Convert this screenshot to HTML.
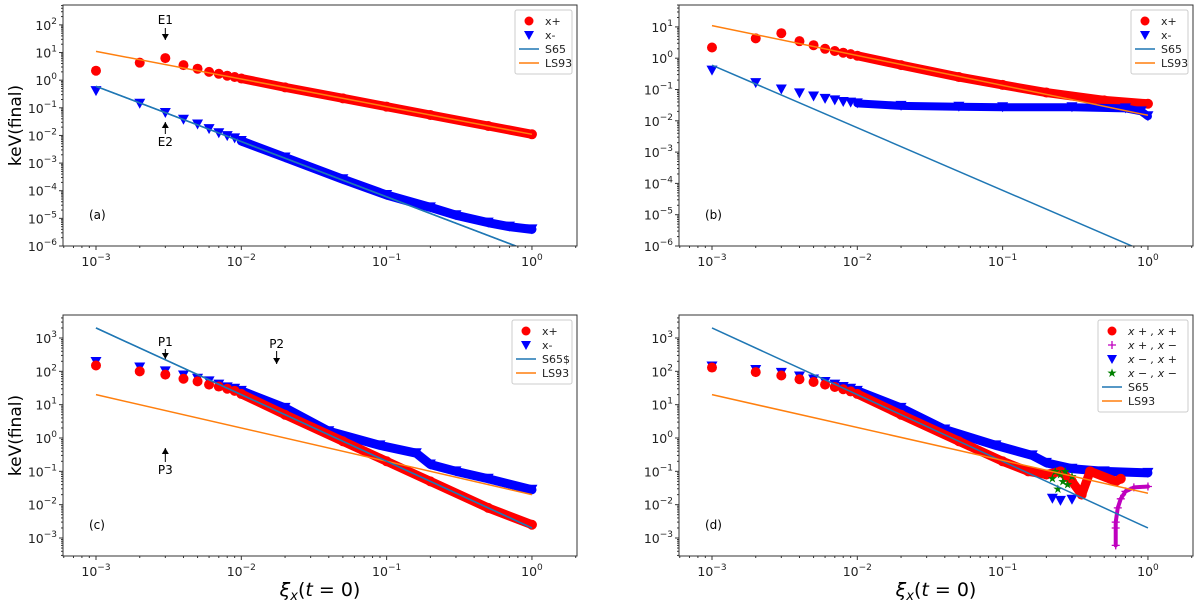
<!DOCTYPE html>
<html><head><meta charset="utf-8"><style>
body{margin:0;background:#fff;width:1200px;height:605px;overflow:hidden}
svg{font-family:"DejaVu Sans","Liberation Sans",sans-serif}
</style></head><body>
<svg id="fig" width="1200" height="605" xmlns="http://www.w3.org/2000/svg"></svg>
<script>
// ---------- data ----------
const aXp=[0.001,0.002,0.003,0.004,0.005,0.006,0.007,0.008,0.009,0.01,0.02,0.05,0.1,0.2,0.5,1];
const aYp=[2.2,4.3,6.3,3.5,2.6,2.0,1.7,1.45,1.3,1.15,0.55,0.22,0.11,0.055,0.022,0.011];
const aXm=[0.001,0.002,0.003,0.004,0.005,0.006,0.007,0.008,0.009,0.01,0.02,0.05,0.1,0.2,0.3,0.5,0.7,1];
const aYm=[0.4,0.14,0.065,0.037,0.025,0.017,0.012,0.0095,0.0078,0.0063,0.0016,2.6e-4,7e-5,2.5e-5,1.3e-5,7e-6,5e-6,4e-6];
const bXp=[0.001,0.002,0.003,0.004,0.005,0.006,0.007,0.008,0.009,0.01,0.02,0.05,0.1,0.2,0.5,1];
const bYp=[2.2,4.3,6.3,3.5,2.6,2.0,1.7,1.5,1.35,1.2,0.6,0.25,0.14,0.08,0.045,0.035];
const bXm=[0.001,0.002,0.003,0.004,0.005,0.006,0.007,0.008,0.009,0.01,0.02,0.05,0.1,0.3,0.7,0.9,1];
const bYm=[0.4,0.16,0.1,0.075,0.06,0.05,0.045,0.04,0.038,0.036,0.03,0.028,0.027,0.027,0.025,0.02,0.014];
const cXp=[0.001,0.002,0.003,0.004,0.005,0.006,0.007,0.008,0.009,0.01,0.02,0.05,0.1,0.2,0.5,1];
const cYp=[150,100,80,60,50,40,35,30,26,21,5,0.8,0.2,0.05,0.008,0.0025];
const cXm=[0.001,0.002,0.003,0.004,0.005,0.006,0.007,0.008,0.009,0.01,0.02,0.04,0.09,0.16,0.2,0.3,0.5,1];
const cYm=[190,130,100,75,60,50,40,33,30,26,8,1.6,0.6,0.35,0.16,0.1,0.06,0.028];
const dXpp=[0.001,0.002,0.003,0.004,0.005,0.006,0.007,0.008,0.009,0.01,0.02,0.05,0.1,0.15,0.2,0.25,0.3,0.35,0.4,0.6,0.65];
const dYpp=[130,95,75,58,48,40,34,29,25,21,5,0.8,0.2,0.1,0.08,0.1,0.05,0.02,0.1,0.05,0.06];
const dXmp=[0.001,0.002,0.003,0.004,0.005,0.006,0.007,0.008,0.009,0.01,0.02,0.04,0.09,0.16,0.2,0.3,0.5,1];
const dYmp=[140,110,90,70,57,48,40,34,30,26,8,1.8,0.6,0.3,0.18,0.12,0.1,0.09];
const dXmpStray=[0.22,0.25,0.3];
const dYmpStray=[0.015,0.013,0.014];
const dXpm=[0.6,0.6,0.6,0.62,0.65,0.7,0.8,1];
const dYpm=[0.0006,0.002,0.003,0.008,0.015,0.025,0.033,0.035];
const dXmm=[0.22,0.23,0.24,0.25,0.26,0.27,0.28,0.3];
const dYmm=[0.06,0.1,0.03,0.08,0.05,0.1,0.04,0.07];
const lineX=[0.001,1];
const aS65=[0.6,6e-7], aLS=[11,0.011];
const bS65=[0.6,6e-7], bLS=[11,0.015];
const cS65=[2000,0.002], cLS=[20,0.02];
const dS65=[2000,0.002], dLS=[20,0.022];
const yTicksA=[-6,-5,-4,-3,-2,-1,0,1,2];
const yTicksB=[-6,-5,-4,-3,-2,-1,0,1];
const yTicksC=[-3,-2,-1,0,1,2,3];
const xTicks=[-3,-2,-1,0];

// ---------- drawing ----------
const svg=document.getElementById('fig');
const NS='http://www.w3.org/2000/svg';
function mk(tag,attrs,parent){const e=document.createElementNS(NS,tag);for(const k in attrs)e.setAttribute(k,attrs[k]);(parent||svg).appendChild(e);return e;}
const RED='#ff0000',BLUE='#0000ff',S65C='#1f77b4',LSC='#ff7f0e',MAG='#bf00bf',GRN='#008000';

function panel(cfg){
  const g=mk('g',{});
  
  
  const L=cfg.L,R=cfg.L+514,T=cfg.T,B=cfg.T+241;
  const xl=-3.227,xr=0.31;
  const sx=v=>L+(Math.log10(v)-xl)/(xr-xl)*(R-L);
  const sy=v=>B-(Math.log10(v)-cfg.y0)/(cfg.y1-cfg.y0)*(B-T);
  const cp='cp'+cfg.id;
  const defs=mk('defs',{},g);const c=mk('clipPath',{id:cp},defs);mk('rect',{x:L,y:T,width:R-L,height:B-T},c);
  const plot=mk('g',{'clip-path':'url(#'+cp+')'},g);
  
  
  function band(xs,ys,col,w,nm){
    let d='';xs.forEach((x,i)=>{if(x>=0.01)d+=(d?'L':'M')+sx(x)+' '+sy(ys[i]);});
    const p=mk('path',{d:d,stroke:col,'stroke-width':w,fill:'none','stroke-linejoin':'round','stroke-linecap':'round'},plot);
    
    
  }
  function marks(xs,ys,col,type,nm){
    xs.forEach((x,i)=>{
      const X=sx(x),Y=sy(ys[i]);let e;
      if(type==='o')e=mk('circle',{cx:X,cy:Y,r:5,fill:col},plot);
      else if(type==='v')e=mk('path',{d:`M${X-5.5} ${Y-5}L${X+5.5} ${Y-5}L${X} ${Y+5}Z`,fill:col},plot);
      else if(type==='+')e=mk('path',{d:`M${X-4} ${Y}H${X+4}M${X} ${Y-4}V${Y+4}`,stroke:col,'stroke-width':1.3},plot);
      else e=mk('text',{x:X,y:Y+4,'text-anchor':'middle','font-size':12,fill:col},plot),e.textContent='★';
      
      
    });
  }
  function fit(ys,col,nm){
    const e=mk('line',{x1:sx(lineX[0]),y1:sy(ys[0]),x2:sx(lineX[1]),y2:sy(ys[1]),stroke:col,'stroke-width':1.5},plot);
    
    
  }
  cfg.series.forEach(s=>{if(s.band)band(s.x,s.y,s.c,s.bw||10,s.n);marks(s.x,s.y,s.c,s.t,s.n);});
  fit(cfg.s65,S65C,'s65-line');fit(cfg.ls,LSC,'ls93-line');
  if(cfg.cover)fit(cfg.s65,S65C,'s65-line-top');
  const fr=mk('rect',{x:L,y:T,width:R-L,height:B-T,fill:'none',stroke:'#333','stroke-width':1},g);
  
  
  for(let dec=-4;dec<=0;dec++){for(let m=1;m<10;m++){const v=m*Math.pow(10,dec);const X=sx(v);if(X<L||X>R)continue;
    mk('line',{x1:X,y1:B,x2:X,y2:B+(m===1?4:2),stroke:'#333'},g);}}
  xTicks.forEach(t=>{const e=mk('text',{x:sx(Math.pow(10,t)),y:B+20,'text-anchor':'middle','font-size':12.5,fill:'#222'},g);
    
    e.innerHTML='10<tspan dy="-6" font-size="9">'+(t<0?'−'+(-t):t)+'</tspan>';});
  cfg.yt.forEach(t=>{const Y=sy(Math.pow(10,t));mk('line',{x1:L-4,y1:Y,x2:L,y2:Y,stroke:'#333'},g);
    const e=mk('text',{x:L-6,y:Y+5,'text-anchor':'end','font-size':12.5,fill:'#222'},g);
    
    e.innerHTML='10<tspan dy="-6" font-size="9">'+(t<0?'−'+(-t):t)+'</tspan>';});
  for(let t=Math.floor(cfg.y0);t<cfg.y1;t++)for(let m=2;m<10;m++){const Y=sy(m*Math.pow(10,t));if(Y<T||Y>B)continue;mk('line',{x1:L-2,y1:Y,x2:L,y2:Y,stroke:'#333'},g);}
  if(cfg.ylabel){const e=mk('text',{x:0,y:0,transform:`translate(${L-42},${(T+B)/2}) rotate(-90)`,'text-anchor':'middle','font-size':17,fill:'#000'},g);
    e.textContent='keV(final)';}
  if(cfg.xlabel){const e=mk('text',{x:(L+R)/2,y:B+40,'text-anchor':'middle','font-size':19,fill:'#000'},g);
    
    e.innerHTML='<tspan font-style="italic">ξ</tspan><tspan font-size="13" dy="4" font-style="italic">x</tspan><tspan dy="-4">(</tspan><tspan font-style="italic">t</tspan> = 0)';}
  const pl=mk('text',{x:L+26,y:B-27,'font-size':12,fill:'#000'},g);
  pl.textContent=cfg.label;
  const ent=cfg.legend;const lw=cfg.legW,lx=R-5-lw,ly=T+5,lh=ent.length*14+8;
  const lg=mk('g',{},g);
  mk('rect',{x:lx,y:ly,width:lw,height:lh,fill:'#fff',stroke:'#ccc',rx:2},lg);
  ent.forEach((en,i)=>{const Y=ly+11+i*14,X=lx+14;
    const eg=mk('g',{},lg);
    if(en.t==='o')mk('circle',{cx:X,cy:Y,r:4.5,fill:en.c},eg);
    else if(en.t==='v')mk('path',{d:`M${X-5} ${Y-4}L${X+5} ${Y-4}L${X} ${Y+5}Z`,fill:en.c},eg);
    else if(en.t==='+')mk('path',{d:`M${X-4} ${Y}H${X+4}M${X} ${Y-4}V${Y+4}`,stroke:en.c,'stroke-width':1.3},eg);
    else if(en.t==='*'){const s=mk('text',{x:X,y:Y+4,'text-anchor':'middle','font-size':12,fill:en.c},eg);s.textContent='★';}
    else mk('line',{x1:X-10,y1:Y,x2:X+10,y2:Y,stroke:en.c,'stroke-width':1.5},eg);
    const tx=mk('text',{x:lx+30,y:Y+4,'font-size':11,fill:'#222','font-style':en.it?'italic':'normal'},eg);tx.textContent=en.l;});
  (cfg.ann||[]).forEach(a=>{const X=sx(a.x);
    const ag=mk('g',{},g);
    const tx=mk('text',{x:X,y:a.ty,'text-anchor':'middle','font-size':12,fill:'#000'},ag);tx.textContent=a.l;
    mk('line',{x1:X,y1:a.a0,x2:X,y2:a.a1,stroke:'#000','stroke-width':1},ag);
    const d=a.a1>a.a0?1:-1;mk('path',{d:`M${X-3.5} ${a.a1-6*d}L${X+3.5} ${a.a1-6*d}L${X} ${a.a1}Z`,fill:'#000'},ag);});
}
const legStd=(s)=>[{t:'o',c:RED,l:'x+'},{t:'v',c:BLUE,l:'x-'},{t:'l',c:S65C,l:s},{t:'l',c:LSC,l:'LS93'}];
panel({id:'a',name:'panel-a',L:63,T:5,y0:-6,y1:2.72,yt:yTicksA,ylabel:true,label:'(a)',legW:57,
  series:[{x:aXp,y:aYp,c:RED,t:'o',n:'x-plus',band:1,bw:9},{x:aXm,y:aYm,c:BLUE,t:'v',n:'x-minus',band:1,bw:9}],
  s65:aS65,ls:aLS,cover:true,legend:legStd('S65'),
  ann:[{x:0.003,l:'E1',ty:24,a0:28,a1:40},{x:0.003,l:'E2',ty:146,a0:134,a1:122}]});
panel({id:'b',name:'panel-b',L:679,T:5,y0:-6,y1:1.7,yt:yTicksB,label:'(b)',legW:57,
  series:[{x:bXp,y:bYp,c:RED,t:'o',n:'x-plus',band:1,bw:9},{x:bXm,y:bYm,c:BLUE,t:'v',n:'x-minus',band:1,bw:8}],
  s65:bS65,ls:bLS,legend:legStd('S65')});
panel({id:'c',name:'panel-c',L:63,T:315,y0:-3.54,y1:3.69,yt:yTicksC,ylabel:true,xlabel:true,label:'(c)',legW:60,
  series:[{x:cXm,y:cYm,c:BLUE,t:'v',n:'x-minus',band:1,bw:9},{x:cXp,y:cYp,c:RED,t:'o',n:'x-plus',band:1,bw:9}],
  s65:cS65,ls:cLS,cover:true,legend:legStd('S65$'),
  ann:[{x:0.003,l:'P1',ty:346,a0:349,a1:359},{x:0.0175,l:'P2',ty:348,a0:351,a1:364},{x:0.003,l:'P3',ty:474,a0:462,a1:448}]});
panel({id:'d',name:'panel-d',L:679,T:315,y0:-3.54,y1:3.69,yt:yTicksC,xlabel:true,label:'(d)',legW:90,
  series:[{x:dXmp,y:dYmp,c:BLUE,t:'v',n:'x-minus-x-plus',band:1,bw:9},{x:dXmpStray,y:dYmpStray,c:BLUE,t:'v',n:'x-minus-x-plus-stray'},
    {x:dXpp,y:dYpp,c:RED,t:'o',n:'x-plus-x-plus',band:1,bw:9},{x:dXpm,y:dYpm,c:MAG,t:'+',n:'x-plus-x-minus',band:1,bw:4},{x:dXmm,y:dYmm,c:GRN,t:'*',n:'x-minus-x-minus'}],
  s65:dS65,ls:dLS,legend:[{t:'o',c:RED,l:'x + , x +',it:1},{t:'+',c:MAG,l:'x + , x −',it:1},{t:'v',c:BLUE,l:'x − , x +',it:1},{t:'*',c:GRN,l:'x − , x −',it:1},{t:'l',c:S65C,l:'S65'},{t:'l',c:LSC,l:'LS93'}]});
</script>
</body></html>
